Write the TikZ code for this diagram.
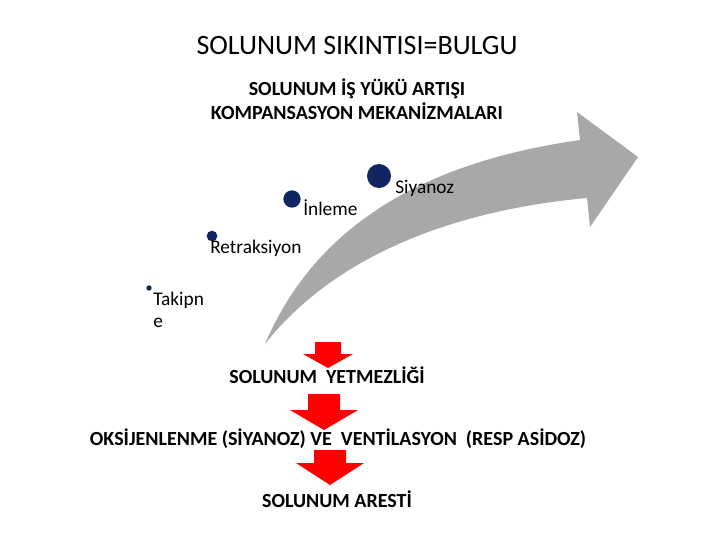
\documentclass[tikz,border=0pt]{standalone}
\usepackage{fontspec}
\setmainfont{Carlito}
\usetikzlibrary{positioning}

\definecolor{navydot}{RGB}{16,38,96}
\definecolor{arrowgray}{RGB}{170,167,167}

\tikzset{
  dot/.style={circle, fill=navydot, inner sep=0pt},
  lbl/.style={inner sep=0pt, anchor=base west, font=\fontsize{14.5}{16.5}\selectfont},
  head/.style={inner sep=0pt, anchor=base, font=\bfseries\fontsize{15}{18}\selectfont},
  redarrow/.style={fill=red, draw=none},
}

\begin{document}
\begin{tikzpicture}[x=0.75pt, y=-0.75pt]
	\useasboundingbox (0,0) rectangle (720,540);
	
	% titles
	\node[inner sep=0pt, anchor=base, font=\fontsize{21}{24}\selectfont] (title) at (357,54) {SOLUNUM SIKINTISI=BULGU};
	\node[head] (isyuku) at (357,95) {SOLUNUM İŞ YÜKÜ ARTIŞI};
	\node[head] (kompans) at (357,119) {KOMPANSASYON MEKANİZMALARI};
	
	% big gray arrow
	\fill[arrowgray] (265,344) .. controls (320,215) and (440,160) .. (580,140)
		-- (577,112) -- (638,157) -- (590,227) -- (587,198)
		.. controls (455,210) and (335,255) .. cycle;
	
	% dots and labels
	\node[dot, minimum size=4pt] (dtakip) at (149,288) {};
	\node[dot, minimum size=8pt] (dretrak) at (212,236) {};
	\node[dot, minimum size=13pt] (dinleme) at (292,199) {};
	\node[dot, minimum size=18pt] (dsiyan) at (379,176) {};
	
	\node[lbl, anchor=north west, align=left] (takip) at (153,292) {Takipn\\e};
	\node[lbl] (retrak) at (210,253) {Retraksiyon};
	\node[lbl] (inleme) at (303,215) {İnleme};
	\node[lbl] (siyan) at (395,193) {Siyanoz};
	
	% red arrows and results
	\fill[redarrow] (315,342) -- (341,342) -- (341,354) -- (353,354) -- (328,368) -- (303,354) -- (315,354) -- cycle;
	\node[head] (yetmez) at (327,383) {SOLUNUM\ \ YETMEZLİĞİ};
	
	\fill[redarrow] (308,394) -- (340,394) -- (340,410) -- (358,410) -- (324,430) -- (290,410) -- (308,410) -- cycle;
	\node[head] (oksijen) at (338,445) {OKSİJENLENME (SİYANOZ) VE\ \ VENTİLASYON\ \ (RESP ASİDOZ)};
	
	\fill[redarrow] (314,450) -- (346,450) -- (346,463) -- (364,463) -- (330,485) -- (296,463) -- (314,463) -- cycle;
	\node[head] (arest) at (337,507) {SOLUNUM ARESTİ};
	
\end{tikzpicture}
\end{document}
